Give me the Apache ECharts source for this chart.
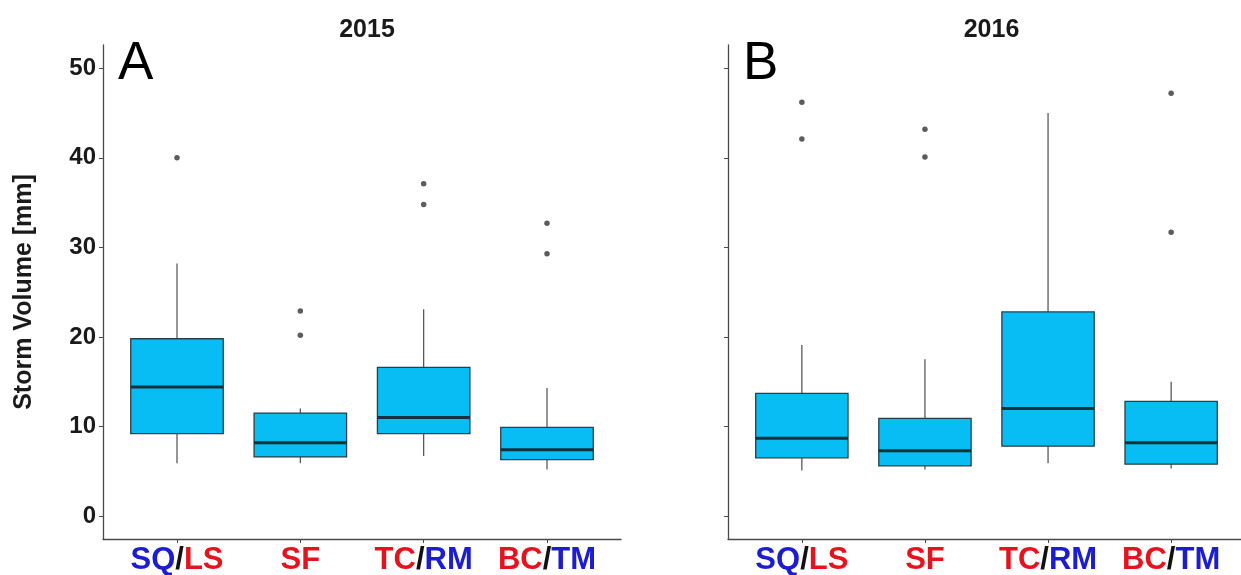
<!DOCTYPE html>
<html>
<head>
<meta charset="utf-8">
<script src="https://cdn.jsdelivr.net/npm/echarts@6/dist/echarts.min.js"></script>
<style>
  html, body { margin: 0; padding: 0; background: #ffffff; }
  #chart { width: 1241px; height: 575px; }
</style>
</head>
<body>
<div id="chart"></div>
<script>
// Site groups along the x axis (1..4 on the value axis)
const categories = ['SQ/LS', 'SF', 'TC/RM', 'BC/TM'];
// Coloured tick labels: b = blue, r = red, k = black separator
const categoryLabels = ['{b|SQ}{k|/}{r|LS}', '{r|SF}', '{r|TC}{k|/}{b|RM}', '{r|BC}{k|/}{b|TM}'];

// Five-number summaries per group: [lower whisker, Q1, median, Q3, upper whisker]
const boxes2015 = [
  [5.9, 9.2, 14.4, 19.8, 28.2],
  [5.9, 6.6, 8.2, 11.5, 12.0],
  [6.7, 9.2, 11.0, 16.6, 23.1],
  [5.2, 6.3, 7.4, 9.9, 14.3]
];
const outliers2015 = [[40.0], [22.9, 20.2], [37.1, 34.8], [32.7, 29.3]];

const boxes2016 = [
  [5.1, 6.5, 8.7, 13.7, 19.1],
  [5.2, 5.6, 7.3, 10.9, 17.5],
  [5.9, 7.8, 12.0, 22.8, 45.0],
  [5.3, 5.8, 8.2, 12.8, 15.0]
];
const outliers2016 = [[46.2, 42.1], [43.2, 40.1], [], [47.2, 31.7]];

const yTicks = [0, 10, 20, 30, 40, 50];
const years = ['2015', '2016'];
const panelTags = ['A', 'B'];

const BOX_WIDTH = 0.75;
const SANS = '"Liberation Sans", Arial, sans-serif';
const AXIS_COLOR = '#4a4a4a';

const panels = [
  { left: 103, width: 518, boxes: boxes2015, outliers: outliers2015 },
  { left: 728, width: 517, boxes: boxes2016, outliers: outliers2016 }
];
const TOP = 45, HEIGHT = 494;

function renderBox(params, api) {
  const x = api.value(0);
  const lo = api.coord([x, api.value(1)]);
  const q1 = api.coord([x, api.value(2)]);
  const md = api.coord([x, api.value(3)]);
  const q3 = api.coord([x, api.value(4)]);
  const hi = api.coord([x, api.value(5)]);
  const half = api.size([BOX_WIDTH, 0])[0] / 2;
  const whisker = { stroke: '#4d4d4d', lineWidth: 1.2 };
  return {
    type: 'group',
    children: [
      { type: 'line', shape: { x1: hi[0], y1: hi[1], x2: q3[0], y2: q3[1] }, style: whisker },
      { type: 'line', shape: { x1: q1[0], y1: q1[1], x2: lo[0], y2: lo[1] }, style: whisker },
      { type: 'rect', shape: { x: q3[0] - half, y: q3[1], width: half * 2, height: q1[1] - q3[1] },
        style: { fill: '#08BDF3', stroke: '#2b3e47', lineWidth: 1.3 } },
      { type: 'line', shape: { x1: md[0] - half, y1: md[1], x2: md[0] + half, y2: md[1] },
        style: { stroke: '#15303d', lineWidth: 3 } }
    ]
  };
}

const grid = [], xAxis = [], yAxis = [], series = [], title = [];

panels.forEach((p, i) => {
  grid.push({ left: p.left, top: TOP, width: p.width, height: HEIGHT, outerBoundsMode: 'none' });

  xAxis.push({
    type: 'value', gridIndex: i, min: 0.4, max: 4.6,
    splitLine: { show: false },
    axisLine: { show: true, onZero: false, lineStyle: { color: AXIS_COLOR, width: 1.3 } },
    axisTick: { show: true, customValues: [1, 2, 3, 4], length: 4, lineStyle: { color: AXIS_COLOR } },
    axisLabel: {
      show: true, customValues: [1, 2, 3, 4], margin: 6,
      formatter: v => categoryLabels[Math.round(v) - 1],
      rich: {
        b: { color: '#1c1cd0', fontSize: 31, fontWeight: 'bold', fontFamily: SANS },
        r: { color: '#e3141e', fontSize: 31, fontWeight: 'bold', fontFamily: SANS },
        k: { color: '#111111', fontSize: 31, fontWeight: 'bold', fontFamily: SANS }
      }
    }
  });

  yAxis.push({
    type: 'value', gridIndex: i, min: -2.56, max: 52.6,
    splitLine: { show: false },
    axisLine: { show: true, onZero: false, lineStyle: { color: AXIS_COLOR, width: 1.3 } },
    axisTick: { show: true, customValues: yTicks, length: 4, lineStyle: { color: AXIS_COLOR } },
    axisLabel: {
      show: i === 0, customValues: yTicks, margin: 7,
      color: '#1a1a1a', fontSize: 24, fontWeight: 'bold', fontFamily: SANS
    },
    name: i === 0 ? 'Storm Volume [mm]' : '',
    nameLocation: 'middle', nameGap: 66,
    nameTextStyle: { color: '#1a1a1a', fontSize: 25, fontWeight: 'bold', fontFamily: SANS }
  });

  series.push({
    type: 'custom', xAxisIndex: i, yAxisIndex: i,
    renderItem: renderBox,
    encode: { x: 0, y: [1, 2, 3, 4, 5] },
    data: p.boxes.map((b, k) => [k + 1].concat(b)),
    silent: true
  });

  const pts = [];
  p.outliers.forEach((vals, k) => vals.forEach(v => pts.push([k + 1, v])));
  series.push({
    type: 'scatter', xAxisIndex: i, yAxisIndex: i,
    symbol: 'circle', symbolSize: 5.5,
    itemStyle: { color: '#333333' },
    data: pts, silent: true
  });

  title.push({
    text: years[i], left: p.left + p.width / 2, top: 13, textAlign: 'center',
    textStyle: { color: '#1a1a1a', fontSize: 25, fontWeight: 'bold', fontFamily: SANS }
  });
  title.push({
    text: panelTags[i], left: p.left + 10, top: 33,
    textStyle: { color: '#000000', fontSize: 53, fontWeight: 'normal', fontFamily: SANS }
  });
});

const chart = echarts.init(document.getElementById('chart'), null, { renderer: 'canvas' });
chart.setOption({
  backgroundColor: '#ffffff',
  animation: false,
  title, grid, xAxis, yAxis, series
});
</script>
</body>
</html>
